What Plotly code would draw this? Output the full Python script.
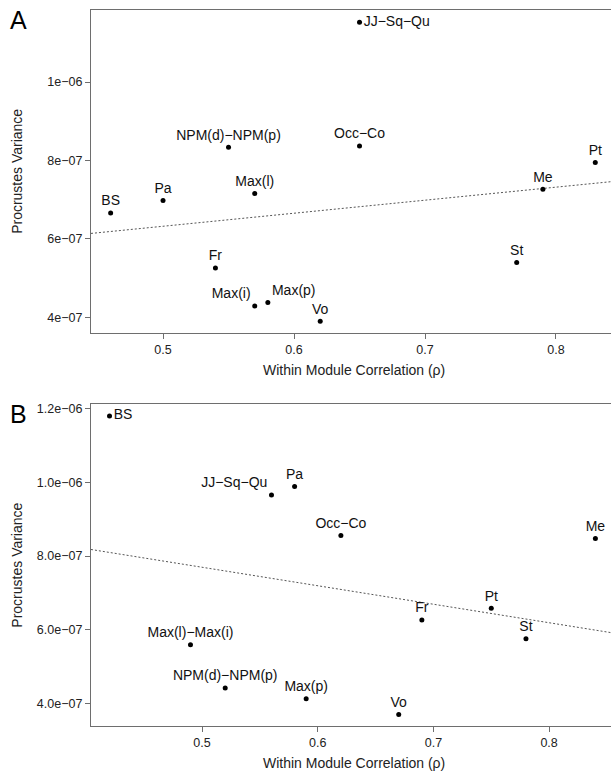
import plotly.graph_objects as go

# ---------------- data ----------------
labels_A = ["JJ−Sq−Qu", "NPM(d)−NPM(p)", "Occ−Co", "Pt", "Me", "Max(l)", "Pa", "BS",
            "Fr", "St", "Max(i)", "Max(p)", "Vo"]
corr_A = [0.65, 0.55, 0.65, 0.83, 0.79, 0.57, 0.50, 0.46, 0.54, 0.77, 0.57, 0.58, 0.62]
var_A = [1.153e-6, 8.34e-7, 8.37e-7, 7.95e-7, 7.27e-7, 7.16e-7, 6.98e-7, 6.66e-7,
         5.26e-7, 5.40e-7, 4.29e-7, 4.38e-7, 3.90e-7]
pos_A = ["middle right", "top center", "top center", "top center", "top center", "top center",
         "top center", "top center", "top center", "top center", "top left", "top right", "top center"]
trend_A = {"intercept": 4.66e-7, "slope": 3.325e-7}

labels_B = ["BS", "Pa", "JJ−Sq−Qu", "Occ−Co", "Me", "Pt", "Fr", "St", "Max(l)−Max(i)",
            "NPM(d)−NPM(p)", "Max(p)", "Vo"]
corr_B = [0.42, 0.58, 0.56, 0.62, 0.84, 0.75, 0.69, 0.78, 0.49, 0.52, 0.59, 0.67]
var_B = [1.181e-6, 9.89e-7, 9.66e-7, 8.56e-7, 8.48e-7, 6.58e-7, 6.26e-7, 5.75e-7, 5.59e-7,
         4.41e-7, 4.12e-7, 3.69e-7]
pos_B = ["middle right", "top center", "top left", "top center", "top center", "top center",
         "top center", "top center", "top center", "top center", "top center", "top center"]
trend_B = {"intercept": 1.021e-6, "slope": -5.03e-7}

xticks = [0.5, 0.6, 0.7, 0.8]
xticktext = ["0.5", "0.6", "0.7", "0.8"]
yticks_A = [4e-7, 6e-7, 8e-7, 1e-6]
yticktext_A = ["4e−07", "6e−07", "8e−07", "1e−06"]
yticks_B = [4e-7, 6e-7, 8e-7, 1e-6, 1.2e-6]
yticktext_B = ["4.0e−07", "6.0e−07", "8.0e−07", "1.0e−06", "1.2e−06"]

xrange_A = [0.445, 0.842]
yrange_A = [3.607e-7, 1.184e-6]
xrange_B = [0.404, 0.8535]
yrange_B = [3.378e-7, 1.2126e-6]

# ---------------- figure ----------------
FONT = "Liberation Sans, Arial, sans-serif"
AXC = "#6e6e6e"

fig = go.Figure()

def add_panel(xs, ys, labels, positions, trend, xr, xa, ya):
    fig.add_trace(go.Scatter(
        x=xr, y=[trend["intercept"] + trend["slope"] * v for v in xr],
        mode="lines", line=dict(color="#555555", width=1, dash="2px,2px"),
        xaxis=xa, yaxis=ya, hoverinfo="skip", showlegend=False))
    fig.add_trace(go.Scatter(
        x=xs, y=ys, mode="markers+text", text=labels, textposition=positions,
        marker=dict(color="black", size=5),
        textfont=dict(family=FONT, size=14, color="#111111"),
        cliponaxis=False, xaxis=xa, yaxis=ya, showlegend=False))

add_panel(corr_A, var_A, labels_A, pos_A, trend_A, xrange_A, "x", "y")
add_panel(corr_B, var_B, labels_B, pos_B, trend_B, xrange_B, "x2", "y2")

axis_common = dict(showline=True, linecolor=AXC, linewidth=1.3, ticks="outside",
                   ticklen=5, tickcolor=AXC, tickwidth=1.2, showgrid=False, zeroline=False,
                   tickfont=dict(family=FONT, size=12.5, color="#222222"))

dom_A = [0.5493, 1.0]
dom_B = [0.0, 0.4493]

fig.update_layout(
    width=611, height=771,
    margin=dict(l=91, r=0, t=10, b=45),
    paper_bgcolor="white", plot_bgcolor="white",
    showlegend=False,
    xaxis=dict(domain=[0, 1], range=xrange_A, anchor="y", mirror=True,
               tickvals=xticks, ticktext=xticktext, **axis_common),
    yaxis=dict(domain=dom_A, range=yrange_A, anchor="x",
               tickvals=yticks_A, ticktext=yticktext_A, **axis_common),
    xaxis2=dict(domain=[0, 1], range=xrange_B, anchor="y2", mirror=True,
                tickvals=xticks, ticktext=xticktext, **axis_common),
    yaxis2=dict(domain=dom_B, range=yrange_B, anchor="x2",
                tickvals=yticks_B, ticktext=yticktext_B, **axis_common),
)

tfont = dict(family=FONT, size=14, color="#222222")
ann = [
    dict(text="A", x=-0.14, y=0.986, font=dict(family=FONT, size=25, color="black")),
    dict(text="B", x=-0.14, y=0.4358, font=dict(family=FONT, size=25, color="black")),
    dict(text="Procrustes Variance", x=-0.1413, y=(dom_A[0] + dom_A[1]) / 2, textangle=-90, font=tfont),
    dict(text="Procrustes Variance", x=-0.1413, y=(dom_B[0] + dom_B[1]) / 2, textangle=-90, font=tfont),
    dict(text="Within Module Correlation (ρ)", x=0.505, y=0.4972, font=tfont),
    dict(text="Within Module Correlation (ρ)", x=0.505, y=-0.0517, font=tfont),
]
for a in ann:
    fig.add_annotation(xref="paper", yref="paper", showarrow=False,
                       xanchor="center", yanchor="middle", **a)

fig.write_html("out.html",
               config={"displayModeBar": False},
               post_script="document.body.style.margin='0';document.body.style.padding='0';"
                           "document.body.style.overflow='hidden';")
